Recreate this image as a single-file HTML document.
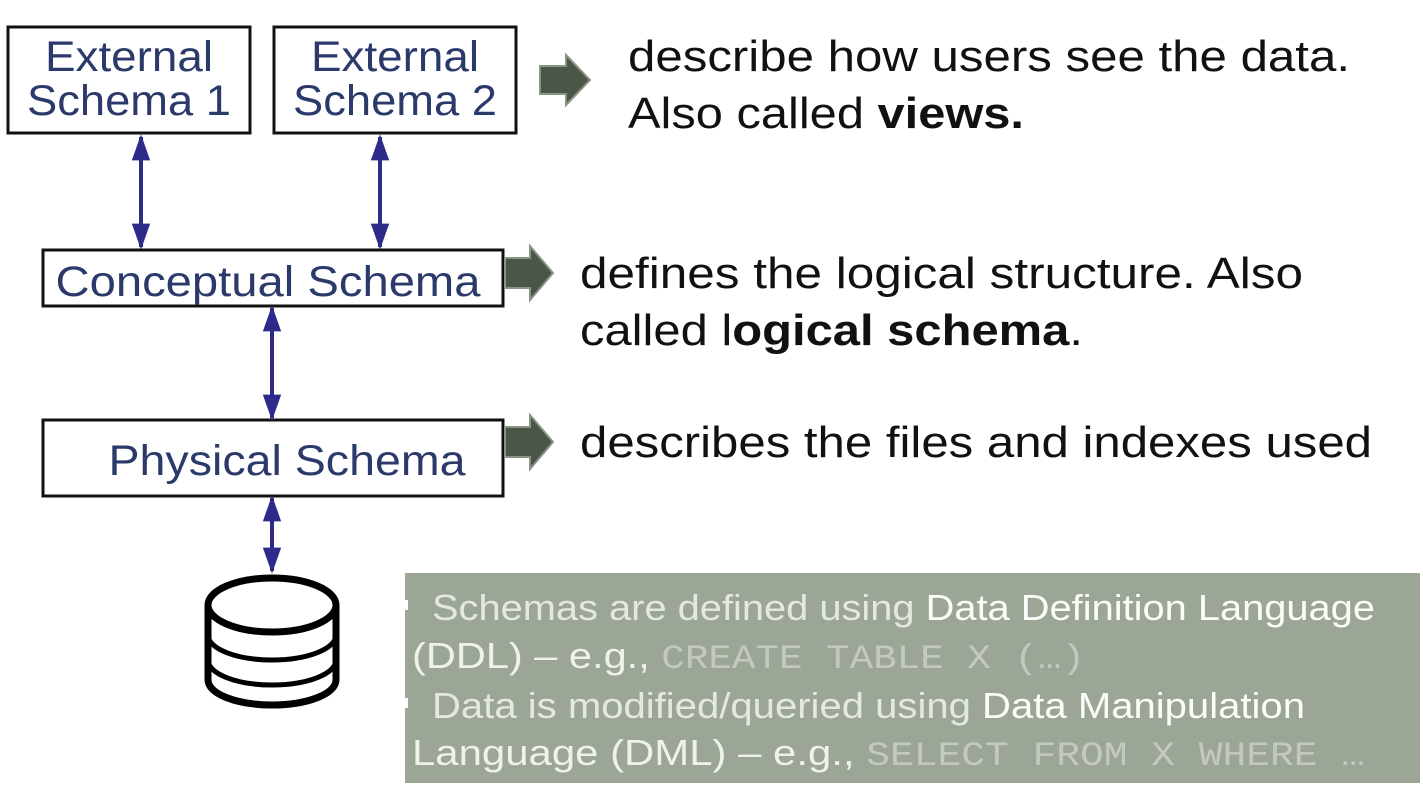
<!DOCTYPE html>
<html><head><meta charset="utf-8"><style>
html,body{margin:0;padding:0;background:#fff;}
svg{display:block;}
</style></head><body>
<svg width="1423" height="793" viewBox="0 0 1423 793" xmlns="http://www.w3.org/2000/svg" font-family="Liberation Sans, Arial, sans-serif">
<defs>
<marker id="ah" viewBox="0 0 10 10" refX="9" refY="5" markerWidth="6.5" markerHeight="4.6" preserveAspectRatio="none" orient="auto-start-reverse" markerUnits="strokeWidth">
<path d="M0,0 L10,5 L0,10 z" fill="#2e2a8a"/></marker>
</defs>
<rect width="1423" height="793" fill="#fff"/>
<g fill="#fff" stroke="#111" stroke-width="3">
<rect x="8" y="27" width="242" height="106"/>
<rect x="274" y="27" width="242" height="106"/>
<rect x="43" y="250" width="460" height="56"/>
<rect x="43" y="420" width="460" height="76"/>
</g>
<g fill="#2b3a6b" font-size="43" text-anchor="middle">
<text x="129" y="71" textLength="168" lengthAdjust="spacingAndGlyphs">External</text>
<text x="129" y="115" textLength="204" lengthAdjust="spacingAndGlyphs">Schema 1</text>
<text x="395" y="71" textLength="168" lengthAdjust="spacingAndGlyphs">External</text>
<text x="395" y="115" textLength="204" lengthAdjust="spacingAndGlyphs">Schema 2</text>
<text x="268" y="296" textLength="425" lengthAdjust="spacingAndGlyphs">Conceptual Schema</text>
<text x="287" y="475" textLength="357" lengthAdjust="spacingAndGlyphs">Physical Schema</text>
</g>
<g stroke="#2e2a8a" stroke-width="4" marker-start="url(#ah)" marker-end="url(#ah)">
<line x1="141" y1="137" x2="141" y2="247"/>
<line x1="380" y1="137" x2="380" y2="247"/>
<line x1="272" y1="308" x2="272" y2="418"/>
<line x1="272" y1="498" x2="272" y2="571"/>
</g>
<g fill="#4a5647" stroke="#8a9486" stroke-width="2">
<path d="M540,66 L566,66 L566,55 L590,80 L566,105 L566,94 L540,94 z"/>
<path d="M505,258 L530,258 L530,246 L553,273 L530,300 L530,288 L505,288 z"/>
<path d="M505,427 L530,427 L530,415 L553,442 L530,469 L530,457 L505,457 z"/>
</g>
<g fill="#111" font-size="44">
<text x="628" y="71" textLength="722" lengthAdjust="spacingAndGlyphs">describe how users see the data.</text>
<text x="628" y="128" textLength="396" lengthAdjust="spacingAndGlyphs">Also called <tspan font-weight="bold">views.</tspan></text>
<text x="580" y="288" textLength="723" lengthAdjust="spacingAndGlyphs">defines the logical structure. Also</text>
<text x="580" y="345" textLength="503" lengthAdjust="spacingAndGlyphs">called l<tspan font-weight="bold">ogical schema</tspan>.</text>
<text x="580" y="457" textLength="792" lengthAdjust="spacingAndGlyphs">describes the files and indexes used</text>
</g>
<g fill="#fff" stroke="#000" stroke-width="7">
<path d="M208,605 L208,680 A64,25 0 0 0 336,680 L336,605"/>
<path d="M208,635 A64,25 0 0 0 336,635" fill="none" stroke-width="5"/>
<path d="M208,660 A64,25 0 0 0 336,660" fill="none" stroke-width="5"/>
<ellipse cx="272" cy="605" rx="64" ry="27"/>
</g>
<rect x="405" y="573" width="1015" height="210" fill="#9ba697"/>
<rect x="403" y="600" width="5" height="10" fill="#fff"/>
<rect x="403" y="698" width="5" height="10" fill="#fff"/>
<g font-size="36" fill="#eef2ea">
<text x="432" y="620" textLength="943" lengthAdjust="spacingAndGlyphs"><tspan fill="#e4e9df">Schemas are defined using </tspan><tspan fill="#fbfdf8">Data Definition Language</tspan></text>
<text x="412" y="668" textLength="673" lengthAdjust="spacingAndGlyphs">(DDL) – e.g., <tspan font-family="Liberation Mono, monospace" fill="#c3cabd" font-size="34">CREATE TABLE X (…)</tspan></text>
<text x="432" y="718" textLength="873" lengthAdjust="spacingAndGlyphs"><tspan fill="#e4e9df">Data is modified/queried using </tspan><tspan fill="#fbfdf8">Data Manipulation</tspan></text>
<text x="412" y="765" textLength="953" lengthAdjust="spacingAndGlyphs">Language (DML) – e.g., <tspan font-family="Liberation Mono, monospace" fill="#c3cabd" font-size="34">SELECT FROM X WHERE …</tspan></text>
</g>
</svg>
</body></html>
